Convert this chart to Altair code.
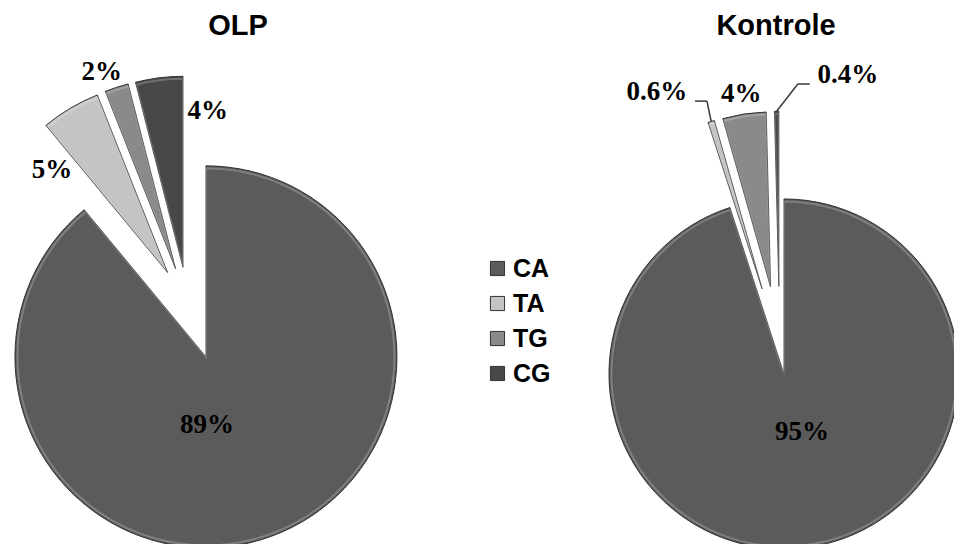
import altair as alt
import pandas as pd

# ---------------- data ----------------
groups = ["OLP", "Kontrole"]
categories = ["CA", "TA", "TG", "CG"]
olp_values = [89, 5, 2, 4]
kontrole_values = [95, 0.6, 4, 0.4]

colors = ["#5b5b5b", "#c4c4c4", "#8a8a8a", "#484848"]

rows = []
for g, vals in zip(groups, [olp_values, kontrole_values]):
    for i, (c, v) in enumerate(zip(categories, vals)):
        rows.append({"group": g, "cat": c, "value": v, "idx": i})
df = pd.DataFrame(rows)
gdf = pd.DataFrame({"group": groups})

# ---------------- layout / style ----------------
PIE = {
    "OLP": dict(cx=188, cy=307, r=191, big=53, small=40, tx=238, ty=26),
    "Kontrole": dict(cx=779.6, cy=346.3, r=175, big=28, small=60, tx=776, ty=26),
}
# label placement: (radius factor, angle shift in degrees)
LABEL = {
    ("OLP", "CA"): (0.356, 19), ("OLP", "TA"): (0.81, -17.8),
    ("OLP", "TG"): (1.10, -2.6), ("OLP", "CG"): (0.83, 16.2),
    ("Kontrole", "CA"): (0.35, -8.2), ("Kontrole", "TA"): (1.275, -11.2),
    ("Kontrole", "TG"): (1.116, 0), ("Kontrole", "CG"): (1.27, 18.8),
}


def by_group(key):
    return f"(datum.group == 'OLP' ? {PIE['OLP'][key]} : {PIE['Kontrole'][key]})"


def by_label(pos):
    expr = "0"
    for (g, c), v in LABEL.items():
        expr = f"(datum.group == '{g}' && datum.cat == '{c}') ? {v[pos]} : ({expr})"
    return f"({expr})"


W, H = 946, 536
xs = alt.Scale(domain=[8, 8 + W], range=[0, W], nice=False, zero=False)
ys = alt.Scale(domain=[8, 8 + H], range=[0, H], nice=False, zero=False)

base = (
    alt.Chart(df)
    .transform_window(cum="sum(value)", groupby=["group"],
                      sort=[alt.SortField("idx")], frame=[None, 0])
    .transform_joinaggregate(total="sum(value)", groupby=["group"])
    .transform_calculate(t1="2*PI*datum.cum/datum.total")
    .transform_calculate(t0="2*PI*(datum.cum-datum.value)/datum.total")
    .transform_calculate(mid="(datum.t0+datum.t1)/2")
    .transform_calculate(ex=f"datum.idx == 0 ? {by_group('big')} : {by_group('small')}")
    .transform_calculate(R=by_group("r"))
    .transform_calculate(Ri="datum.R - 2.5")
    .transform_calculate(scx=f"{by_group('cx')} + datum.ex*sin(datum.mid)")
    .transform_calculate(scy=f"{by_group('cy')} - datum.ex*cos(datum.mid)")
    .transform_calculate(rf=by_label(0), da=by_label(1))
    .transform_calculate(la="datum.mid + datum.da*PI/180")
    .transform_calculate(lx="datum.scx + datum.rf*datum.R*sin(datum.la)")
    .transform_calculate(ly="datum.scy - datum.rf*datum.R*cos(datum.la)")
    .transform_calculate(txt="datum.value + '%'")
    .transform_calculate(px="datum.scx + datum.R*sin(datum.mid)")
    .transform_calculate(py="datum.scy - datum.R*cos(datum.mid)")
    .transform_calculate(sgn="datum.lx < datum.scx ? 1 : -1")
    .transform_calculate(ex_x="datum.lx + datum.sgn*38")
    .transform_calculate(el_x="datum.lx + datum.sgn*50")
    .transform_calculate(el_y="datum.ly + 9")
)

arcs = base.mark_arc(stroke="#303030", strokeWidth=1).encode(
    x=alt.X("scx:Q", scale=xs, axis=None),
    y=alt.Y("scy:Q", scale=ys, axis=None),
    theta=alt.Theta("t0:Q", scale=None, stack=None),
    theta2=alt.Theta2("t1:Q"),
    radius=alt.Radius("R:Q", scale=None),
    color=alt.Color(
        "cat:N",
        scale=alt.Scale(domain=categories, range=colors),
        sort=categories,
        legend=alt.Legend(
            title=None, orient="none", legendX=477, legendY=248,
            symbolType="square", symbolSize=200, symbolStrokeColor="#333333",
            symbolStrokeWidth=1, labelFont="Liberation Sans", labelFontSize=25,
            labelFontWeight="bold", labelColor="black", rowPadding=9,
            labelOffset=3,
        ),
    ),
)

# subtle inner rim to hint at the bevelled look
rims = base.mark_arc(fill=None, stroke="white", strokeWidth=2, strokeOpacity=0.22).encode(
    x=alt.X("scx:Q", scale=xs, axis=None),
    y=alt.Y("scy:Q", scale=ys, axis=None),
    theta=alt.Theta("t0:Q", scale=None, stack=None),
    theta2=alt.Theta2("t1:Q"),
    radius=alt.Radius("Ri:Q", scale=None),
)

labels = base.mark_text(
    font="Liberation Serif", fontSize=27, fontWeight="bold", color="black",
    align="center", baseline="middle",
).encode(
    x=alt.X("lx:Q", scale=xs, axis=None),
    y=alt.Y("ly:Q", scale=ys, axis=None),
    text="txt:N",
)

small = base.transform_filter("datum.value < 1")
lead1 = small.mark_rule(color="#3a3a3a", strokeWidth=1.5).encode(
    x=alt.X("px:Q", scale=xs, axis=None),
    y=alt.Y("py:Q", scale=ys, axis=None),
    x2="el_x:Q", y2="el_y:Q",
)
lead2 = small.mark_rule(color="#3a3a3a", strokeWidth=1.5).encode(
    x=alt.X("el_x:Q", scale=xs, axis=None),
    y=alt.Y("el_y:Q", scale=ys, axis=None),
    x2="ex_x:Q", y2="el_y:Q",
)

titles = (
    alt.Chart(gdf)
    .transform_calculate(tx=by_group("tx"), ty=by_group("ty"))
    .mark_text(font="Liberation Sans", fontSize=29, fontWeight="bold",
               color="black", align="center", baseline="middle")
    .encode(
        x=alt.X("tx:Q", scale=xs, axis=None),
        y=alt.Y("ty:Q", scale=ys, axis=None),
        text="group:N",
    )
)

chart = (
    alt.layer(arcs, rims, lead1, lead2, labels, titles)
    .properties(width=W, height=H, autosize="none", padding=0)
    .configure_view(stroke=None)
)

chart.save("out.html", embed_options={"renderer": "svg", "actions": False})
